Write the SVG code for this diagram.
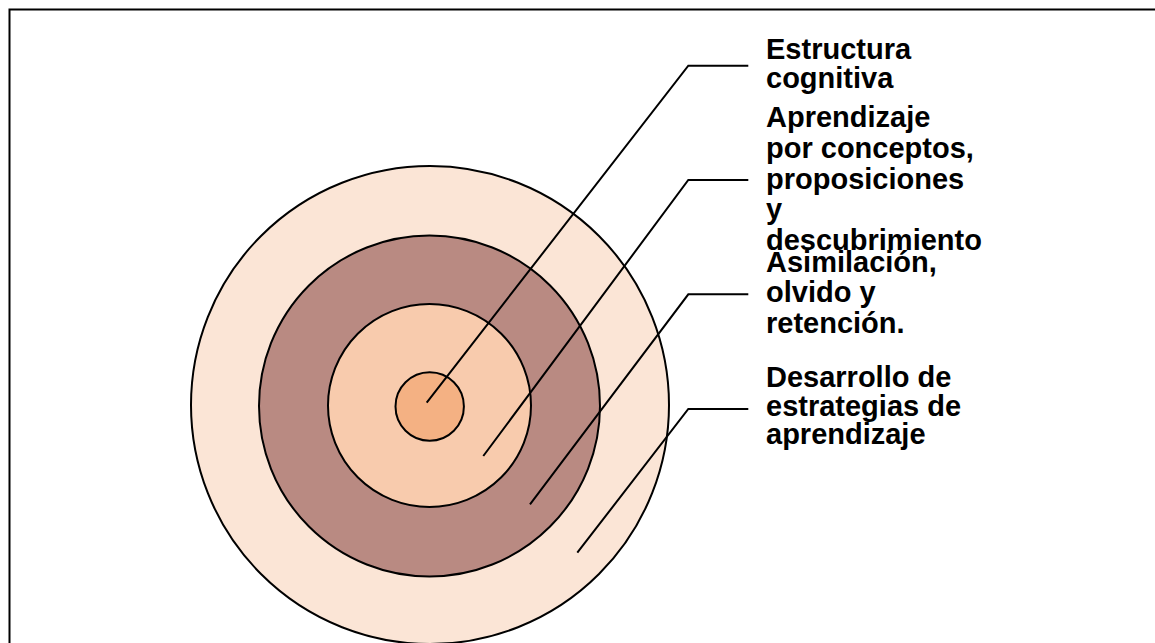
<svg xmlns="http://www.w3.org/2000/svg" width="1155" height="643" viewBox="0 0 1155 643">
<style>
.ring{stroke:#000;stroke-width:2}
.conn{fill:none;stroke:#000;stroke-width:2}
.lbl{font-family:"Liberation Sans",Arial,sans-serif;font-weight:bold;font-size:29px;fill:#000}
</style>
<rect x="0" y="0" width="1155" height="643" fill="#fff"/>
<path d="M9.5,643 V9.5 H1155" fill="none" stroke="#000" stroke-width="2"/>
<g id="ring-outer"><circle class="ring" cx="430" cy="405" r="239" fill="#FBE5D6"/></g>
<g id="ring-2"><circle class="ring" cx="429.5" cy="406" r="170.5" fill="#B98A82"/></g>
<g id="ring-3"><circle class="ring" cx="429.5" cy="405.5" r="101.5" fill="#F8CBAD"/></g>
<g id="ring-core"><circle class="ring" cx="429.7" cy="406.5" r="34.2" fill="#F4B183"/></g>
<g id="connectors">
<polyline class="conn" points="426.7,402.7 688.3,65.7 748.3,65.7"/>
<polyline class="conn" points="483.3,456 688.3,180 748.3,180"/>
<polyline class="conn" points="530,504.3 688.3,294.3 748.3,294.3"/>
<polyline class="conn" points="577.3,552.7 688.3,409 748.3,409"/>
</g>
<g id="label-1"><text class="lbl" x="766" y="59">Estructura</text><text class="lbl" x="766" y="88">cognitiva</text></g>
<g id="label-2"><text class="lbl" x="766" y="127">Aprendizaje</text><text class="lbl" x="766" y="157.7">por conceptos,</text><text class="lbl" x="766" y="188.5">proposiciones</text><text class="lbl" x="766" y="219.2">y</text><text class="lbl" x="766" y="250">descubrimiento</text></g>
<g id="label-3"><text class="lbl" x="766" y="272">Asimilación,</text><text class="lbl" x="766" y="302.3">olvido y</text><text class="lbl" x="766" y="332.6">retención.</text></g>
<g id="label-4"><text class="lbl" x="766" y="387">Desarrollo de</text><text class="lbl" x="766" y="415.5">estrategias de</text><text class="lbl" x="766" y="444">aprendizaje</text></g>
</svg>
